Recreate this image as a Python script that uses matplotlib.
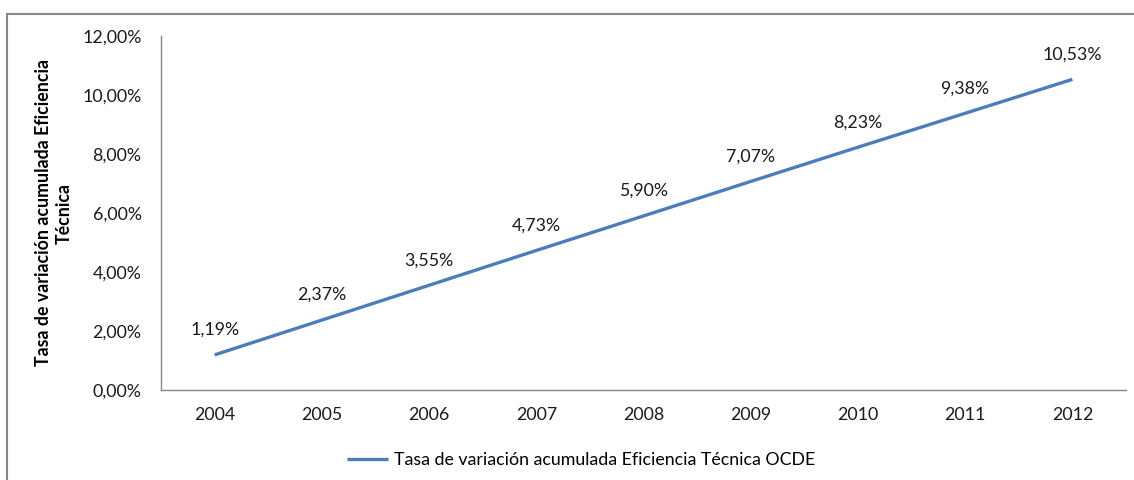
import matplotlib
matplotlib.use("Agg")
import matplotlib.pyplot as plt
from matplotlib.patches import Rectangle

years = ["2004", "2005", "2006", "2007", "2008", "2009", "2010", "2011", "2012"]
values = [1.19, 2.37, 3.55, 4.73, 5.90, 7.07, 8.23, 9.38, 10.53]
yticks = [0, 2, 4, 6, 8, 10, 12]
series_name = "Tasa de variación acumulada Eficiencia Técnica OCDE"
ylabel = "Tasa de variación acumulada Eficiencia\nTécnica"

plt.rcParams['font.family'] = ['Lato', 'DejaVu Sans']
FS = 12.8

fig = plt.figure(figsize=(11.34, 4.8), dpi=100)
ax = fig.add_axes([161/1134, 1-390/480, (1126-161)/1134, (390-36)/480])

x = list(range(len(years)))
line, = ax.plot(x, values, color="#4A7EBB", linewidth=2.4, solid_capstyle='butt', label=series_name)

def fmt(v):
    return f"{v:.2f}".replace(".", ",") + "%"

for xi, v in zip(x, values):
    ax.annotate(fmt(v), (xi, v), xytext=(0, 18), textcoords="offset points",
                ha="center", va="center", fontsize=FS, color="#1a1a1a")

ax.set_xlim(-0.5, len(years) - 0.5)
ax.set_ylim(0, 12)
ax.set_xticks(x)
ax.set_xticklabels(years, fontsize=FS, color="#1a1a1a")
ax.set_yticks(yticks)
ax.set_yticklabels([fmt(t) for t in yticks], fontsize=FS, color="#1a1a1a")
ax.tick_params(axis='x', length=0, pad=12)
ax.tick_params(axis='y', length=0, pad=14)
for s in ["top", "right"]:
    ax.spines[s].set_visible(False)
for s in ["left", "bottom"]:
    ax.spines[s].set_color("#868686")
    ax.spines[s].set_linewidth(1.0)

fig.text(54/1134, 1-213/480, ylabel, rotation=90, ha="center", va="center",
         fontsize=FS, fontweight="bold", multialignment="center", linespacing=1.3)

leg = fig.legend(handles=[line], loc="center", bbox_to_anchor=(581/1134, 1-460/480),
                 frameon=False, fontsize=FS, handlelength=2.3, handletextpad=0.35)

fig.patches.append(Rectangle((7/1134, -0.1), 1.2, 1-14/480+0.1, transform=fig.transFigure,
                             fill=False, edgecolor="#888888", linewidth=1.5))

fig.savefig("out.png", dpi=100)
